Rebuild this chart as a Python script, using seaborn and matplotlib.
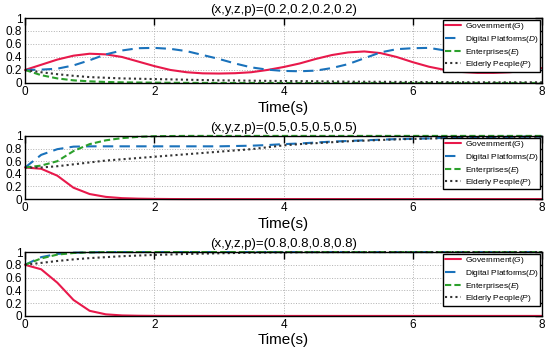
import numpy as np
import pandas as pd
import matplotlib
matplotlib.use("Agg")
import matplotlib.pyplot as plt
import seaborn as sns

# time samples (s)
t = [0, 0.25, 0.5, 0.75, 1.0, 1.25, 1.5, 1.75, 2.0, 2.25, 2.5, 2.75, 3.0, 3.25, 3.5, 3.75,
     4.0, 4.25, 4.5, 4.75, 5.0, 5.25, 5.5, 5.75, 6.0, 6.25, 6.5, 6.75, 7.0, 7.25, 7.5, 7.75, 8.0]

titles = ["(x,y,z,p)=(0.2,0.2,0.2,0.2)", "(x,y,z,p)=(0.5,0.5,0.5,0.5)", "(x,y,z,p)=(0.8,0.8,0.8,0.8)"]
labels = ["Government($G$)", "Digital Platforms($D$)", "Enterprises($E$)", "Elderly People($P$)"]

# panel 1: initial 0.2
gov_1 = [0.20, 0.28, 0.36, 0.42, 0.45, 0.44, 0.40, 0.33, 0.26, 0.20, 0.165, 0.148, 0.145, 0.15, 0.165, 0.20,
         0.245, 0.30, 0.37, 0.43, 0.47, 0.485, 0.46, 0.40, 0.32, 0.25, 0.20, 0.17, 0.155, 0.155, 0.165, 0.19, 0.23]
dig_1 = [0.20, 0.205, 0.22, 0.27, 0.35, 0.44, 0.50, 0.535, 0.54, 0.525, 0.49, 0.43, 0.37, 0.30, 0.24, 0.205,
         0.185, 0.18, 0.19, 0.23, 0.29, 0.38, 0.47, 0.52, 0.535, 0.54, 0.50, 0.44, 0.36, 0.29, 0.245, 0.215, 0.20]
ent_1 = [0.20, 0.12, 0.07, 0.04, 0.025, 0.015, 0.01, 0.007, 0.005, 0.003, 0.002, 0.001, 0.0, 0.0, 0.0, 0.0,
         0.0, 0.0, 0.0, 0.0, 0.0, 0.0, 0.0, 0.0, 0.0, 0.0, 0.0, 0.0, 0.0, 0.0, 0.0, 0.0, 0.0]
eld_1 = [0.20, 0.165, 0.135, 0.11, 0.09, 0.08, 0.07, 0.065, 0.06, 0.055, 0.05, 0.045, 0.04, 0.038, 0.035, 0.032,
         0.03, 0.028, 0.026, 0.023, 0.02, 0.019, 0.018, 0.016, 0.015, 0.014, 0.013, 0.012, 0.01, 0.01, 0.01, 0.01, 0.01]

# panel 2: initial 0.5
gov_2 = [0.50, 0.48, 0.37, 0.18, 0.08, 0.035, 0.015, 0.007, 0.003, 0.001, 0.0, 0.0, 0.0, 0.0, 0.0, 0.0,
         0.0, 0.0, 0.0, 0.0, 0.0, 0.0, 0.0, 0.0, 0.0, 0.0, 0.0, 0.0, 0.0, 0.0, 0.0, 0.0, 0.0]
dig_2 = [0.50, 0.70, 0.79, 0.83, 0.835, 0.835, 0.835, 0.835, 0.835, 0.835, 0.835, 0.835, 0.835, 0.84, 0.845, 0.855,
         0.87, 0.88, 0.895, 0.91, 0.92, 0.93, 0.94, 0.95, 0.955, 0.96, 0.97, 0.975, 0.98, 0.982, 0.985, 0.988, 0.99]
ent_2 = [0.50, 0.53, 0.60, 0.76, 0.87, 0.93, 0.965, 0.985, 0.995, 0.998, 1.0, 1.0, 1.0, 1.0, 1.0, 1.0,
         1.0, 1.0, 1.0, 1.0, 1.0, 1.0, 1.0, 1.0, 1.0, 1.0, 1.0, 1.0, 1.0, 1.0, 1.0, 1.0, 1.0]
eld_2 = [0.50, 0.50, 0.52, 0.55, 0.58, 0.61, 0.63, 0.65, 0.67, 0.69, 0.71, 0.73, 0.75, 0.77, 0.79, 0.82,
         0.85, 0.87, 0.885, 0.90, 0.915, 0.925, 0.935, 0.945, 0.952, 0.958, 0.965, 0.97, 0.975, 0.978, 0.982, 0.985, 0.988]

# panel 3: initial 0.8
gov_3 = [0.80, 0.73, 0.52, 0.25, 0.08, 0.025, 0.008, 0.003, 0.001, 0.0, 0.0, 0.0, 0.0, 0.0, 0.0, 0.0,
         0.0, 0.0, 0.0, 0.0, 0.0, 0.0, 0.0, 0.0, 0.0, 0.0, 0.0, 0.0, 0.0, 0.0, 0.0, 0.0, 0.0]
dig_3 = [0.80, 0.92, 0.97, 0.99, 0.995, 1.0, 1.0, 1.0, 1.0, 1.0, 1.0, 1.0, 1.0, 1.0, 1.0, 1.0,
         1.0, 1.0, 1.0, 1.0, 1.0, 1.0, 1.0, 1.0, 1.0, 1.0, 1.0, 1.0, 1.0, 1.0, 1.0, 1.0, 1.0]
ent_3 = [0.80, 0.90, 0.96, 0.985, 0.995, 1.0, 1.0, 1.0, 1.0, 1.0, 1.0, 1.0, 1.0, 1.0, 1.0, 1.0,
         1.0, 1.0, 1.0, 1.0, 1.0, 1.0, 1.0, 1.0, 1.0, 1.0, 1.0, 1.0, 1.0, 1.0, 1.0, 1.0, 1.0]
eld_3 = [0.80, 0.83, 0.86, 0.885, 0.905, 0.92, 0.935, 0.945, 0.955, 0.962, 0.97, 0.975, 0.98, 0.985, 0.99, 0.992,
         0.995, 0.997, 0.998, 1.0, 1.0, 1.0, 1.0, 1.0, 1.0, 1.0, 1.0, 1.0, 1.0, 1.0, 1.0, 1.0, 1.0]

panels = [[gov_1, dig_1, ent_1, eld_1], [gov_2, dig_2, ent_2, eld_2], [gov_3, dig_3, ent_3, eld_3]]

colors = ["#E8194B", "#1A72BB", "#2CA02C", "#333333"]
styles = ["-", (0, (5, 3)), (0, (3, 1.5)), (0, (1, 1.5))]

sns.set_style("white")
plt.rcParams["font.family"] = ["Liberation Sans", "DejaVu Sans"]
plt.rcParams["mathtext.fontset"] = "custom"
plt.rcParams["mathtext.it"] = "Liberation Sans:italic"
plt.rcParams["mathtext.rm"] = "Liberation Sans"
plt.rcParams["text.color"] = "black"
plt.rcParams["xtick.color"] = "black"
plt.rcParams["ytick.color"] = "black"
plt.rcParams["axes.labelcolor"] = "black"

fig = plt.figure(figsize=(5.5, 3.53), dpi=100)
# axes rectangles [left, bottom, width, height] in figure fraction
rects = [[0.0455, 0.765, 0.94, 0.184],
         [0.0455, 0.436, 0.94, 0.179],
         [0.0455, 0.105, 0.94, 0.181]]

for rect, title, series in zip(rects, titles, panels):
    ax = fig.add_axes(rect)
    for vals, lab, c, ls in zip(series, labels, colors, styles):
        sns.lineplot(x=t, y=vals, ax=ax, color=c, linestyle=ls, linewidth=1.5, label=lab)
    for ln in ax.get_lines():
        ln.set_clip_on(False)
    ax.set_xlim(0, 8)
    ax.set_ylim(0, 1)
    ax.set_xticks([0, 2, 4, 6, 8])
    ax.set_yticks([0, 0.2, 0.4, 0.6, 0.8, 1])
    ax.set_yticklabels(["0", "0.2", "0.4", "0.6", "0.8", "1"])
    ax.tick_params(direction="in", top=True, right=True, labelsize=8.5, length=5, width=1, pad=2)
    ax.grid(True, linestyle=":", color="#b0b0b0", linewidth=0.7)
    for sp in ax.spines.values():
        sp.set_color("black")
        sp.set_linewidth(1)
    ax.set_title(title, fontsize=9.5, pad=3.5)
    ax.set_xlabel("Time(s)", fontsize=11, labelpad=2)
    ax.set_ylabel("")
    leg = ax.legend(loc="upper right", fontsize=6, frameon=True, fancybox=False,
                    edgecolor="black", borderpad=0.15, labelspacing=0.2, handlelength=2.0,
                    handletextpad=0.4, borderaxespad=0.25)
    leg.get_frame().set_linewidth(1)
    leg.get_frame().set_alpha(1)

fig.savefig("out.png", dpi=100)
